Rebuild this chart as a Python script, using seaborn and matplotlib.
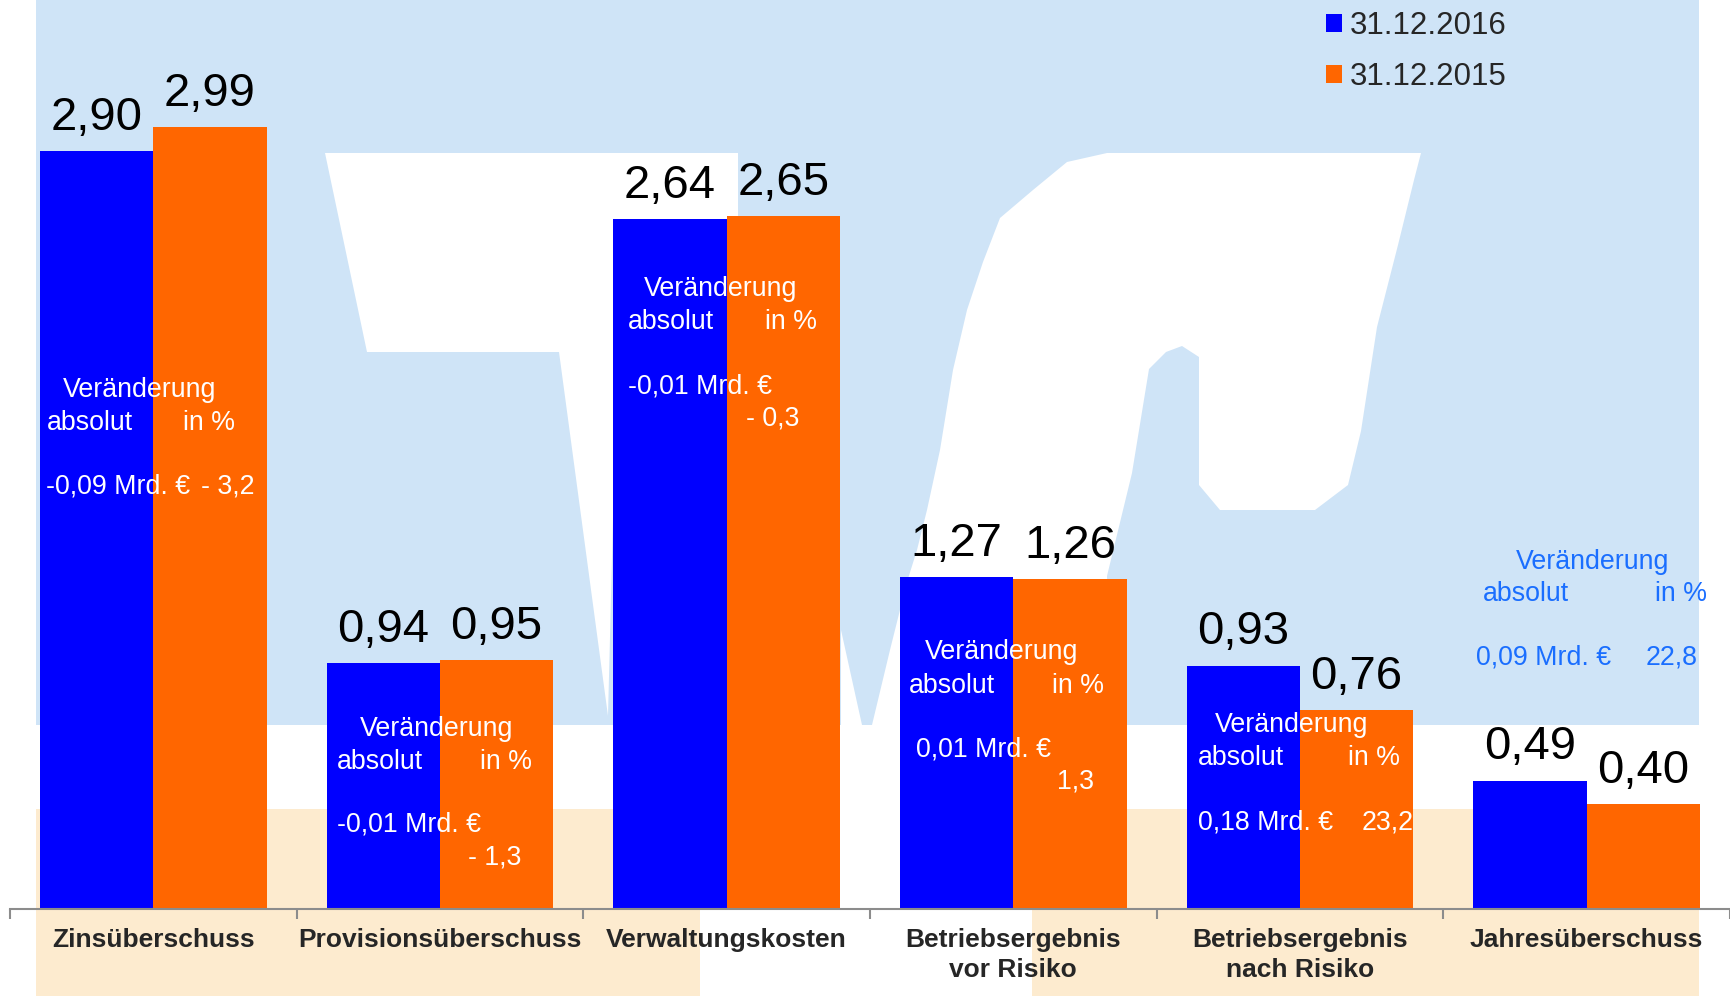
import numpy as np
import pandas as pd
import matplotlib
matplotlib.use("Agg")
import matplotlib.pyplot as plt
import seaborn as sns
from matplotlib.patches import Polygon, Rectangle

# Daten
kategorien = ['Zinsüberschuss', 'Provisionsüberschuss', 'Verwaltungskosten',
              'Betriebsergebnis\nvor Risiko', 'Betriebsergebnis\nnach Risiko', 'Jahresüberschuss']
stichtage = ['31.12.2016', '31.12.2015']
werte_2016 = [2.90, 0.94, 2.64, 1.27, 0.93, 0.49]
werte_2015 = [2.99, 0.95, 2.65, 1.26, 0.76, 0.40]
veraenderung_abs = ['-0,09 Mrd. €', '-0,01 Mrd. €', '-0,01 Mrd. €', '0,01 Mrd. €', '0,18 Mrd. €', '0,09 Mrd. €']
veraenderung_pct = ['- 3,2', '- 1,3', '- 0,3', '1,3', '23,2', '22,8']

farben = ['#0000FF', '#FF6600']

df = pd.DataFrame({
    'Kategorie': kategorien * 2,
    'Stichtag': [stichtage[0]] * 6 + [stichtage[1]] * 6,
    'Wert': werte_2016 + werte_2015,
})

sns.set_style('white')
plt.rcParams['font.family'] = ['Liberation Sans', 'DejaVu Sans']

W, H = 1731, 996
fig = plt.figure(figsize=(W / 100, H / 100), dpi=100)
fig.patch.set_facecolor('white')


def fig_pts(pts):
    # Pixelkoordinaten (oben links) -> Figure-Anteile
    return [(x / W, 1 - y / H) for x, y in pts]


# Hintergrund (Logo-Andeutung)
hellblau = '#CFE4F7'
beige = '#FDEBCF'
fig.add_artist(Rectangle((36 / W, 1 - 725 / H), (1699 - 36) / W, 725 / H,
                         transform=fig.transFigure, color=hellblau, lw=0, zorder=-10))
fig.add_artist(Rectangle((36 / W, 0), (700 - 36) / W, (996 - 809) / H,
                         transform=fig.transFigure, color=beige, lw=0, zorder=-10))
fig.add_artist(Rectangle((1032 / W, 0), (1699 - 1032) / W, (996 - 809) / H,
                         transform=fig.transFigure, color=beige, lw=0, zorder=-10))
linker_arm = [(325, 153), (738, 153), (738, 240), (620, 240), (608, 716), (559, 352), (367, 352)]
rechter_arm = [(1107, 153), (1421, 153), (1414, 180), (1398, 245), (1377, 327), (1361, 431),
               (1348, 485), (1315, 510), (1220, 510), (1199, 485), (1199, 357), (1182, 346),
               (1166, 352), (1149, 369), (1132, 473), (1107, 576), (1110, 725), (872, 725),
               (890, 650), (907, 582), (917, 550), (927, 510), (940, 450), (953, 370),
               (967, 310), (983, 262), (1000, 218), (1033, 190), (1067, 162)]
spitze = [(841, 630), (862, 725), (841, 725)]
for poly in [linker_arm, rechter_arm, spitze]:
    fig.add_artist(Polygon(fig_pts(poly), closed=True, transform=fig.transFigure,
                           facecolor='white', lw=0, zorder=-9))

ax = fig.add_axes([10 / W, 0.0878, 1 - 10 / W - 0.0006, 1 - 0.0878])
ax.set_facecolor('none')

sns.barplot(data=df, x='Kategorie', y='Wert', hue='Stichtag', hue_order=stichtage,
            palette=farben, saturation=1, width=0.79, linewidth=0, ax=ax)

ax.set_xlim(-0.5, 5.5)
ax.set_ylim(0, 3.477)
ax.set_xlabel('')
ax.set_ylabel('')
ax.set_yticks([])
for s in ['top', 'left', 'right']:
    ax.spines[s].set_visible(False)
ax.spines['bottom'].set_color('#8C8C8C')
ax.spines['bottom'].set_linewidth(1.5)
ax.tick_params(axis='x', which='major', bottom=False, length=0, pad=14, labelsize=19)
for lab in ax.get_xticklabels():
    lab.set_fontweight('bold')
    lab.set_linespacing(1.3)
ax.set_xticks(np.arange(-0.5, 6, 1), minor=True)
ax.tick_params(axis='x', which='minor', bottom=True, length=7, width=1.5,
               color='#8C8C8C', direction='out')

# Werte über den Balken
for cont, werte in zip(ax.containers, [werte_2016, werte_2015]):
    ax.bar_label(cont, labels=[f"{v:.2f}".replace('.', ',') for v in werte],
                 padding=8, fontsize=34, color='black')

# Veränderungstexte: (x_ver, y_ver, x_abs, y_abs, x_in, x_val, y_val, x_pct, y_pct)
text_layout = [
    (-0.049, 1.986, -0.373, 1.859, 0.105, -0.373, 1.614, 0.166, 1.614),
    (-0.011, 0.689, -0.360, 0.562, 0.141, -0.360, 0.321, 0.098, 0.194),
    (-0.020, 2.370, -0.343, 2.243, 0.134, -0.343, 1.998, 0.069, 1.876),
    (-0.042, 0.980, -0.366, 0.853, 0.135, -0.339, 0.608, 0.151, 0.486),
    (-0.029, 0.701, -0.356, 0.575, 0.168, -0.356, 0.330, 0.214, 0.330),
    (0.022, 1.327, -0.363, 1.204, 0.237, -0.386, 0.959, 0.206, 0.959),
]
for i, (xv, yv, xa, ya, xi, xw, yw, xp, yp) in enumerate(text_layout):
    c = '#1A6EFF' if i == 5 else 'white'
    fs = 19.3
    ax.text(i + xv, yv, 'Veränderung', ha='center', va='center', color=c, fontsize=fs)
    ax.text(i + xa, ya, 'absolut', ha='left', va='center', color=c, fontsize=fs)
    ax.text(i + xi, ya, 'in %', ha='left', va='center', color=c, fontsize=fs)
    ax.text(i + xw, yw, veraenderung_abs[i], ha='left', va='center', color=c, fontsize=fs)
    ax.text(i + xp, yp, veraenderung_pct[i], ha='left', va='center', color=c, fontsize=fs)

handles, labels = ax.get_legend_handles_labels()
ax.legend(handles, labels, loc='upper left', bbox_to_anchor=(1326 / W, 1 - 11 / H),
          bbox_transform=fig.transFigure, frameon=False, fontsize=22.5,
          handlelength=0.5, handleheight=0.5, handletextpad=0.25, labelspacing=0.68,
          borderpad=0, borderaxespad=0)

fig.savefig('out.png', dpi=100)
